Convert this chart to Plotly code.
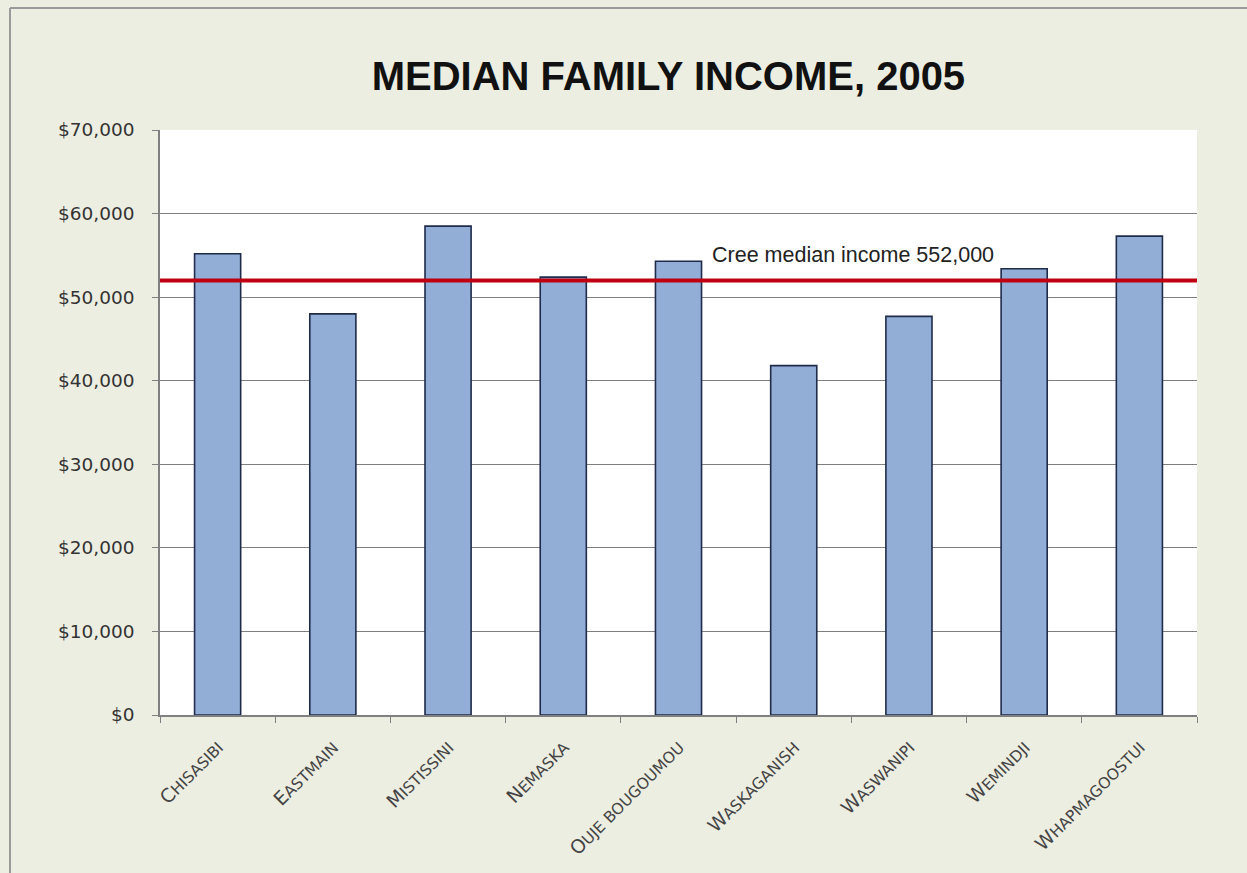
import plotly.graph_objects as go

# Communities (shown in small caps: first letter large, remainder smaller)
communities = ["Chisasibi", "Eastmain", "Mistissini", "Nemaska", "Oujé Bougoumou",
               "Waskaganish", "Waswanipi", "Wemindji", "Whapmagoostui"]
tick_heads = ["C", "E", "M", "N", "O", "W", "W", "W", "W"]
tick_tails = ["HISASIBI", "ASTMAIN", "ISTISSINI", "EMASKA", "UJE BOUGOUMOU",
              "ASKAGANISH", "ASWANIPI", "EMINDJI", "HAPMAGOOSTUI"]
median_income = [55200, 48000, 58500, 52400, 54300, 41800, 47700, 53400, 57300]
cree_median = 52000
cree_label = "Cree median income 552,000"
y_ticks = [0, 10000, 20000, 30000, 40000, 50000, 60000, 70000]
y_tick_text = ["$0", "$10,000", "$20,000", "$30,000", "$40,000", "$50,000", "$60,000", "$70,000"]

W, H = 1247, 873
L, R, T, B = 160, 50, 130, 158
plot_w = W - L - R
plot_h = H - T - B

def px_x(px):
    return (px - L) / plot_w

def px_y(py):
    return (H - B - py) / plot_h

tick_text = [f"{h}<span style='font-size:15.5px'>{t}</span>" for h, t in zip(tick_heads, tick_tails)]

fig = go.Figure()
fig.add_trace(go.Bar(
    x=communities,
    y=median_income,
    width=0.4,
    marker=dict(color="#93AED6", line=dict(color="#1E2B4A", width=1.6)),
    hoverinfo="x+y",
))

fig.update_layout(
    width=W, height=H,
    margin=dict(l=L, r=R, t=T, b=B),
    paper_bgcolor="#EDEEE2",
    plot_bgcolor="#FFFFFF",
    showlegend=False,
    title=dict(
        text="<b>MEDIAN FAMILY INCOME, 2005</b>",
        x=0.536, xanchor="center",
        y=1 - 76 / H, yanchor="middle",
        font=dict(family="Liberation Sans, Arial, sans-serif", size=40, color="#111111"),
    ),
    font=dict(family="DejaVu Sans, Verdana, sans-serif", color="#333333"),
    xaxis=dict(
        type="category",
        tickmode="array",
        tickvals=communities,
        ticktext=tick_text,
        tickangle=-45,
        tickfont=dict(size=19, color="#444444", family="DejaVu Sans, Verdana, sans-serif"),
        ticks="outside",
        tickson="boundaries",
        ticklen=6,
        tickcolor="#808080",
        showline=True,
        linecolor="#808080",
        linewidth=1.5,
        showgrid=False,
        ticklabelstandoff=12,
    ),
    yaxis=dict(
        range=[0, 70000],
        tickmode="array",
        tickvals=y_ticks,
        ticktext=y_tick_text,
        tickfont=dict(size=18.5, color="#333333", family="DejaVu Sans, Verdana, sans-serif"),
        ticks="outside",
        ticklen=6,
        tickcolor="#808080",
        ticklabelstandoff=14,
        showline=True,
        linecolor="#808080",
        linewidth=1.5,
        showgrid=True,
        gridcolor="#7F7F7F",
        gridwidth=1,
        zeroline=False,
        fixedrange=True,
    ),
    shapes=[
        # Cree median reference line
        dict(type="line", xref="paper", yref="y", x0=0, x1=1,
             y0=cree_median, y1=cree_median,
             line=dict(color="#C00010", width=4), layer="above"),
        # outer frame edges
        dict(type="line", xref="paper", yref="paper",
             x0=px_x(10), x1=px_x(10), y0=px_y(8), y1=px_y(H + 5),
             line=dict(color="#9A9A9A", width=2)),
        dict(type="line", xref="paper", yref="paper",
             x0=px_x(10), x1=px_x(W + 5), y0=px_y(8), y1=px_y(8),
             line=dict(color="#9A9A9A", width=2)),
    ],
    annotations=[
        dict(text=cree_label, xref="paper", yref="paper",
             x=px_x(710), y=px_y(255), xanchor="left", yanchor="middle",
             showarrow=False,
             font=dict(size=21.5, color="#222222", family="Liberation Sans, Arial, sans-serif")),
    ],
)

fig.write_html("out.html")
